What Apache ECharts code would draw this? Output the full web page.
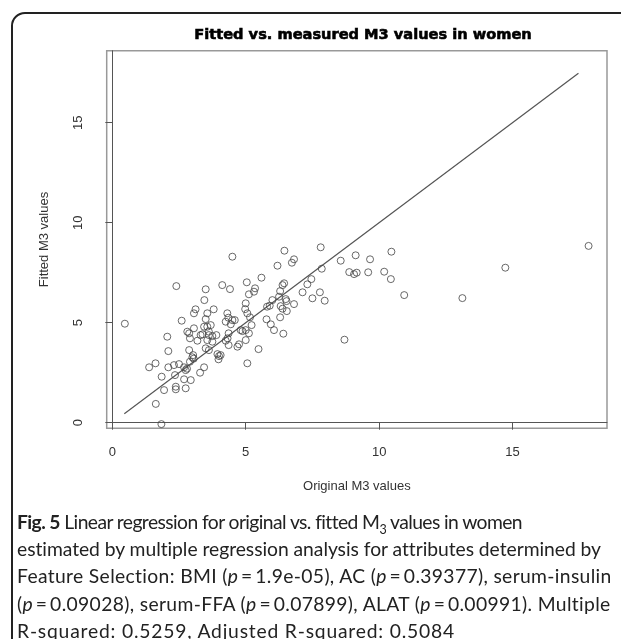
<!DOCTYPE html>
<html>
<head>
    <meta charset="UTF-8">
    <title></title>
    <script src="https://cdn.jsdelivr.net/npm/echarts@6/dist/echarts.min.js"></script>
</head>
<style>
    * {
        padding: 0;
        margin: 0;
    }

    body {
        background: #fff;
        width: 621px;
        height: 639px;
        overflow: hidden;
        position: relative;
    }

    .frame {
        position: absolute;
        left: 11px;
        top: 12px;
        width: 700px;
        height: 700px;
        border: 2px solid #222;
        border-radius: 14px;
    }

    #chart {
        position: absolute;
        left: 0;
        top: 0;
        width: 621px;
        height: 639px;
    }

    .cap {
        position: absolute;
        left: 17px;
        top: 508px;
        font-family: Lato, "Open Sans", sans-serif;
        font-size: 19.3px;
        line-height: 27.2px;
        color: #222;
        white-space: nowrap;
    }

    .cap span {
        display: inline-block;
    }

    .cap sub {
        font-size: 12.5px;
        line-height: 0;
    }
</style>
<body>
    <div class="frame"></div>
    <div id="chart"></div>
    <div class="cap">
        <span data-w="504"><b>Fig. 5</b> Linear regression for original vs. fitted M<sub>3</sub> values in women</span><br>
        <span data-w="584">estimated by multiple regression analysis for attributes determined by</span><br>
        <span data-w="595">Feature Selection: BMI (<i>p</i>&thinsp;=&thinsp;1.9e-05), AC (<i>p</i>&thinsp;=&thinsp;0.39377), serum-insulin</span><br>
        <span data-w="594">(<i>p</i>&thinsp;=&thinsp;0.09028), serum-FFA (<i>p</i>&thinsp;=&thinsp;0.07899), ALAT (<i>p</i>&thinsp;=&thinsp;0.00991). Multiple</span><br>
        <span data-w="438">R-squared: 0.5259, Adjusted R-squared: 0.5084</span>
    </div>
</body>
<script>
    // original (measured) M3 values
    var origM3 = [
        0.47, 1.84, 1.63, 1.94, 2.38, 2.38, 2.75, 1.85, 2.35, 2.69, 2.94, 1.38, 1.62, 2.10, 2.31, 2.50, 2.69, 2.75, 2.80,
        2.06, 2.10, 2.60, 2.40, 2.81, 2.88, 3.06, 2.91, 3.19, 2.88, 3.03, 3.00, 3.05, 2.91, 3.06, 3.12,
        3.44, 3.29, 3.31, 3.38, 3.45, 3.50, 3.56, 3.50, 3.80, 3.44, 3.56, 3.62, 3.62, 3.75, 3.90, 3.69, 3.75, 3.56,
        3.50, 3.62, 3.94, 4.06, 3.98, 4.00, 4.12, 4.41, 4.50, 4.31, 4.35, 4.50, 4.59, 4.25, 4.44, 4.36, 4.32, 4.36, 4.25,
        4.75, 4.69, 4.81, 4.88, 5.00, 5.12, 5.00, 5.22, 5.00, 4.98, 5.06, 5.16, 5.04, 5.12, 5.31, 5.35, 5.59, 5.48, 5.06,
        5.78, 5.94, 6.06, 5.80, 5.90, 6.00,
        6.19, 6.45, 6.73, 6.81, 6.44, 6.38, 6.29, 6.25, 6.50, 6.53, 6.81, 6.31, 6.38, 6.54, 6.29, 6.41,
        7.81, 7.85, 7.46, 7.31, 7.13, 7.78, 7.50, 7.96,
        8.56, 9.12, 9.66, 8.88, 9.06, 9.16, 9.59, 8.70, 10.46, 10.19, 10.44, 10.94, 13.12, 14.73, 17.85
    ];
    // fitted M3 values
    var fitM3 = [
        4.95, -0.07, 0.94, 1.63, 1.80, 1.67, 1.72, 2.30, 2.38, 2.17, 2.13, 2.77, 2.97, 2.77, 2.88, 2.93, 2.77, 2.63, 2.70,
        4.30, 3.58, 5.10, 6.83, 4.55, 4.47, 4.72, 4.22, 4.10, 3.63, 3.38, 3.27, 3.20, 3.05, 5.47, 5.67,
        2.77, 2.50, 4.38, 4.42, 6.13, 6.67, 5.47, 5.18, 5.67, 4.80, 4.80, 4.55, 4.38, 4.33, 4.38, 4.88, 4.05, 4.13,
        3.72, 3.63, 3.43, 3.38, 3.17, 3.33, 6.88, 6.68, 8.30, 5.47, 5.25, 5.13, 5.13, 5.05, 4.92, 4.47, 4.22, 3.88, 4.10,
        3.92, 3.80, 4.63, 4.58, 4.63, 4.47, 4.13, 4.88, 5.97, 5.68, 5.47, 5.27, 7.02, 6.42, 6.55, 6.72, 7.25, 3.68, 2.97,
        5.17, 4.92, 4.63, 5.80, 5.85, 6.13,
        7.85, 8.60, 8.00, 8.17, 6.97, 6.88, 6.58, 6.30, 6.18, 6.08, 5.93, 5.83, 5.70, 5.58, 5.27, 4.45,
        8.77, 7.70, 7.18, 6.92, 6.52, 6.52, 6.22, 6.10,
        8.10, 8.37, 8.17, 7.53, 7.43, 7.50, 7.52, 4.15, 8.55, 7.55, 7.18, 6.38, 6.23, 7.75, 8.84
    ];
    // reference line
    var lineX = [0.45, 17.47];
    var lineY = [0.45, 17.47];
    var xTicks = [0, 5, 10, 15];
    var yTicks = [0, 5, 10, 15];

    // fit each caption line to the width it has in the figure
    var spans = document.querySelectorAll(".cap span");
    for (var s = 0; s < spans.length; s++) {
        var el = spans[s];
        var target = Number(el.getAttribute("data-w"));
        var n = el.textContent.length;
        var w = el.getBoundingClientRect().width;
        el.style.letterSpacing = ((target - w) / n) + "px";
    }

    var pts = [];
    for (var i = 0; i < origM3.length; i++) {
        pts.push([origM3[i], fitM3[i]]);
    }
    var linePts = [[lineX[0], lineY[0]], [lineX[1], lineY[1]]];

    var axisFont = { fontFamily: "Liberation Sans", fontSize: 13, color: "#333" };

    var myChart = echarts.init(document.getElementById("chart"));
    var option = {
        animation: false,
        title: {
            text: "Fitted vs. measured M3 values in women",
            left: 358,
            top: 23,
            textAlign: "center",
            textStyle: {
                fontFamily: "DejaVu Sans",
                fontWeight: "bold",
                fontSize: 14.6,
                color: "#000",
                textBorderColor: "#000",
                textBorderWidth: 0.6
            }
        },
        grid: {
            left: 106.7,
            right: 14,
            top: 50.7,
            bottom: 210.7,
            show: true,
            borderColor: "#999",
            borderWidth: 1.5
        },
        xAxis: {
            type: "value",
            min: -0.21,
            max: 18.54,
            name: "Original M3 values",
            nameLocation: "middle",
            nameGap: 52,
            nameTextStyle: axisFont,
            splitLine: { show: false },
            axisLine: { show: true, lineStyle: { color: "#555", width: 1 } },
            axisTick: { show: true, length: 7, lineStyle: { color: "#555" }, customValues: xTicks },
            axisLabel: Object.assign({ margin: 18, customValues: xTicks }, axisFont)
        },
        yAxis: {
            type: "value",
            min: -0.28,
            max: 18.6,
            name: "Fitted M3 values",
            nameLocation: "middle",
            nameRotate: 90,
            nameGap: 56,
            nameTextStyle: axisFont,
            splitLine: { show: false },
            axisLine: { show: true, lineStyle: { color: "#555", width: 1 } },
            axisTick: { show: true, length: 7, lineStyle: { color: "#555" }, customValues: yTicks },
            axisLabel: Object.assign({ margin: 22, rotate: 90, customValues: yTicks }, axisFont)
        },
        series: [
            {
                type: "line",
                data: linePts,
                symbol: "none",
                lineStyle: { color: "#555", width: 1.2 },
                z: 1
            },
            {
                type: "scatter",
                data: pts,
                symbol: "circle",
                symbolSize: 7,
                itemStyle: {
                    color: "rgba(255,255,255,0)",
                    borderColor: "#444",
                    borderWidth: 1
                },
                z: 2
            }
        ]
    };
    myChart.setOption(option);
</script>
</html>
